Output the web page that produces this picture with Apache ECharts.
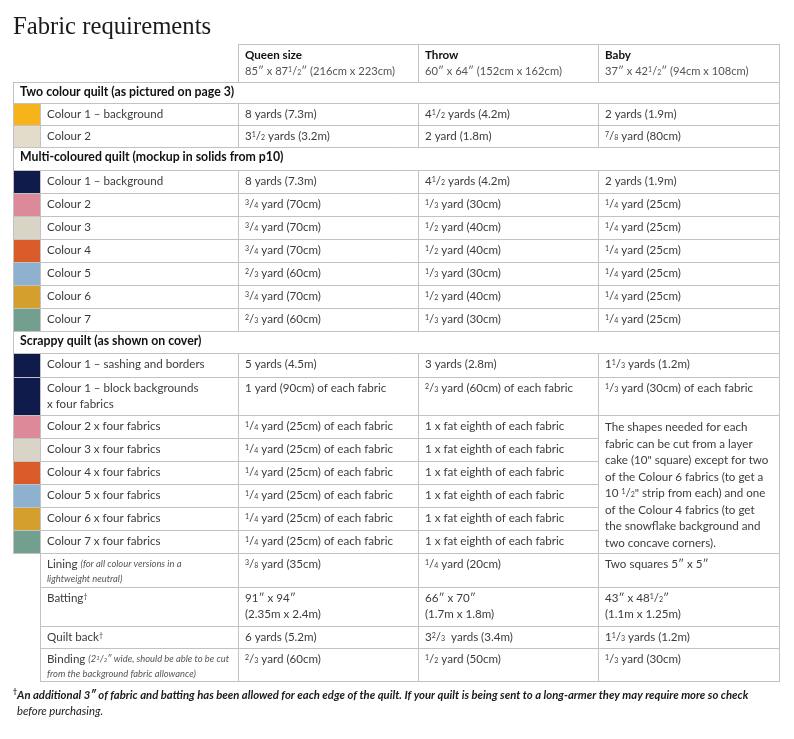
<!DOCTYPE html>
<html><head><meta charset="utf-8">
<script src="https://cdn.jsdelivr.net/npm/echarts@6/dist/echarts.min.js"></script>
<style>html,body{margin:0;padding:0;background:#fff}#c{width:794px;height:739px}</style>
</head><body><div id="c"></div>
<script>
// ---------------- data ----------------
const chartTitle = 'Fabric requirements';
const sizeNames = ['Queen size', 'Throw', 'Baby'];
const sizeDims = ['85″ x 87¹/₂″ (216cm x 223cm)', '60″ x 64″ (152cm x 162cm)', '37″ x 42¹/₂″ (94cm x 108cm)'];
const sectionTitles = ['Two colour quilt (as pictured on page 3)', 'Multi-coloured quilt (mockup in solids from p10)', 'Scrappy quilt (as shown on cover)'];
const rowSection = [0, null, null, 1, null, null, null, null, null, null, null, 2, null, null, null, null, null, null, null, null, null, null, null, null];
const rowLabels = [
  null, 'Colour 1 – background', 'Colour 2',
  null, 'Colour 1 – background', 'Colour 2', 'Colour 3', 'Colour 4', 'Colour 5', 'Colour 6', 'Colour 7',
  null, 'Colour 1 – sashing and borders', 'Colour 1 – block backgrounds\nx four fabrics', 'Colour 2 x four fabrics', 'Colour 3 x four fabrics', 'Colour 4 x four fabrics', 'Colour 5 x four fabrics', 'Colour 6 x four fabrics', 'Colour 7 x four fabrics',
  'Lining', 'Batting†', 'Quilt back†', 'Binding'
];
const rowNotes = [
  null, null, null, null, null, null, null, null, null, null, null, null, null, null, null, null, null, null, null, null,
  '(for all colour versions in a\nlightweight neutral)', null, null, '(2¹/₂″ wide, should be able to be cut\nfrom the background fabric allowance)'
];
const rowSwatch = [
  null, 'yellow', 'beige',
  null, 'navy', 'pink', 'stone', 'orange', 'blue', 'mustard', 'sage',
  null, 'navy', 'navy', 'pink', 'stone', 'orange', 'blue', 'mustard', 'sage',
  null, null, null, null
];
const queenValues = [
  null, '8 yards (7.3m)', '3¹/₂ yards (3.2m)',
  null, '8 yards (7.3m)', '³/₄ yard (70cm)', '³/₄ yard (70cm)', '³/₄ yard (70cm)', '²/₃ yard (60cm)', '³/₄ yard (70cm)', '²/₃ yard (60cm)',
  null, '5 yards (4.5m)', '1 yard (90cm) of each fabric', '¹/₄ yard (25cm) of each fabric', '¹/₄ yard (25cm) of each fabric', '¹/₄ yard (25cm) of each fabric', '¹/₄ yard (25cm) of each fabric', '¹/₄ yard (25cm) of each fabric', '¹/₄ yard (25cm) of each fabric',
  '³/₈ yard (35cm)', '91″ x 94″\n(2.35m x 2.4m)', '6 yards (5.2m)', '²/₃ yard (60cm)'
];
const throwValues = [
  null, '4¹/₂ yards (4.2m)', '2 yard (1.8m)',
  null, '4¹/₂ yards (4.2m)', '¹/₃ yard (30cm)', '¹/₂ yard (40cm)', '¹/₂ yard (40cm)', '¹/₃ yard (30cm)', '¹/₂ yard (40cm)', '¹/₃ yard (30cm)',
  null, '3 yards (2.8m)', '²/₃ yard (60cm) of each fabric', '1 x fat eighth of each fabric', '1 x fat eighth of each fabric', '1 x fat eighth of each fabric', '1 x fat eighth of each fabric', '1 x fat eighth of each fabric', '1 x fat eighth of each fabric',
  '¹/₄ yard (20cm)', '66″ x 70″\n(1.7m x 1.8m)', '3²/₃  yards (3.4m)', '¹/₂ yard (50cm)'
];
const babyValues = [
  null, '2 yards (1.9m)', '⁷/₈ yard (80cm)',
  null, '2 yards (1.9m)', '¹/₄ yard (25cm)', '¹/₄ yard (25cm)', '¹/₄ yard (25cm)', '¹/₄ yard (25cm)', '¹/₄ yard (25cm)', '¹/₄ yard (25cm)',
  null, '1¹/₃ yards (1.2m)', '¹/₃ yard (30cm) of each fabric',
  'The shapes needed for each\nfabric can be cut from a layer\ncake (10" square) except for two\nof the Colour 6 fabrics (to get a\n10 ¹/₂" strip from each) and one\nof the Colour 4 fabrics (to get\nthe snowflake background and\ntwo concave corners).',
  '', '', '', '', '',
  'Two squares 5″ x 5″', '43″ x 48¹/₂″\n(1.1m x 1.25m)', '1¹/₃ yards (1.2m)', '¹/₃ yard (30cm)'
];
const babyMerge = { first: 14, rows: 6 };
const footnoteMark = '†';
const footnoteLines = ['An additional 3″ of fabric and batting has been allowed for each edge of the quilt. If your quilt is being sent to a long-armer they may require more so check', 'before purchasing.'];

// ---------------- layout & style ----------------
const palette = { yellow: '#F6B41A', beige: '#E4DCCB', navy: '#0F1B4B', pink: '#DC8A9A', stone: '#D9D4C6', orange: '#D85B29', blue: '#8EB1CF', mustard: '#D59F2E', sage: '#73A08E' };
const BORDER = '#c2c2c2';
const FONT = 'Lato, "Noto Sans", sans-serif';
const TEXT = '#3c3c3c';
const FS = 11.6;
const colEdges = [0, 27, 225, 405, 585, 766];
const headerHeight = 38;
const rowHeights = [21, 22, 22, 23, 23, 23, 23, 23, 23, 23, 23, 22, 24, 38, 23, 23, 23, 23, 23, 23, 34, 39, 22, 33];
const rowTops = [];
(function () { let t = headerHeight; rowHeights.forEach(h => { rowTops.push(t); t += h; }); })();
const totalHeight = rowTops[rowTops.length - 1] + rowHeights[rowHeights.length - 1];

const SUP = '⁰¹²³⁴⁵⁶⁷⁸⁹', SUB = '₀₁₂₃₄₅₆₇₈₉';
function richify(str, base, sup, sub) {
  // converts unicode super/subscript digits into rich tokens
  return str.split('\n').map(line => {
    let out = '', buf = '', mode;
    const flush = () => { if (buf) { out += mode ? '{' + mode + '|' + buf + '}' : buf; } buf = ''; };
    for (const ch of line) {
      let m = base, c = ch;
      if (SUP.indexOf(ch) >= 0) { m = sup; c = String(SUP.indexOf(ch)); }
      else if (ch === '†') { m = sup; }
      else if (SUB.indexOf(ch) >= 0) { m = sub; c = String(SUB.indexOf(ch)); }
      if (m !== mode) { flush(); mode = m; }
      buf += c;
    }
    flush();
    return out;
  }).join('\n');
}
function richStyles(fill) {
  return {
    b: { fontFamily: FONT, fontSize: FS, fontWeight: 'bold', lineHeight: 16, fill: '#111' },
    s: { fontFamily: FONT, fontSize: 12.3, fontWeight: 'bold', lineHeight: 16, fill: '#111' },
    g: { fontFamily: FONT, fontSize: 11.2, lineHeight: 17, fill: '#555' },
    sup: { fontFamily: FONT, fontSize: 7, height: 12.6, lineHeight: 12, verticalAlign: 'top', fill: fill },
    sub: { fontFamily: FONT, fontSize: 7, height: 12.6, lineHeight: 12, verticalAlign: 'bottom', fill: fill },
    gsup: { fontFamily: FONT, fontSize: 7, height: 12.6, lineHeight: 12, verticalAlign: 'top', fill: '#555' },
    gsub: { fontFamily: FONT, fontSize: 7, height: 13.6, lineHeight: 12, verticalAlign: 'bottom', fill: '#555' },
    i: { fontFamily: FONT, fontSize: 9.4, fontStyle: 'italic', lineHeight: 13, fill: '#555' },
    isup: { fontFamily: FONT, fontSize: 6, fontStyle: 'italic', height: 13.6, lineHeight: 10, verticalAlign: 'top', fill: '#555' },
    isub: { fontFamily: FONT, fontSize: 6, fontStyle: 'italic', height: 13.4, lineHeight: 10, verticalAlign: 'bottom', fill: '#555' }
  };
}

function px(api, x, y) { const p = api.coord([x, y]); return [Math.round(p[0]), Math.round(p[1])]; }
function hline(api, xa, xb, y) {
  const a = px(api, xa, y), b = px(api, xb, y);
  return { type: 'line', shape: { x1: a[0], y1: a[1] + 0.5, x2: b[0] + 1, y2: b[1] + 0.5 }, style: { stroke: BORDER, lineWidth: 1 } };
}
function vline(api, x, ya, yb) {
  const a = px(api, x, ya), b = px(api, x, yb);
  return { type: 'line', shape: { x1: a[0] + 0.5, y1: a[1], x2: b[0] + 0.5, y2: b[1] + 1 }, style: { stroke: BORDER, lineWidth: 1 } };
}
function textEl(api, x, y, text, fill, dy, lh) {
  const p = api.coord([x, y]);
  return {
    type: 'text',
    style: {
      text: text, x: Math.round(p[0]), y: Math.round(p[1]) + dy,
      align: 'left', verticalAlign: 'top', fontFamily: FONT, fontSize: FS, lineHeight: lh || 16, fill: fill,
      rich: richStyles(fill)
    }
  };
}

function renderItem(params, api) {
  const r = api.value(0);
  const kids = [];
  const PAD = 7;
  if (r < 0) {
    const y0 = 0, y1 = headerHeight;
    kids.push(hline(api, colEdges[2], colEdges[5], y0), hline(api, colEdges[2], colEdges[5], y1));
    for (let c = 2; c <= 5; c++) kids.push(vline(api, colEdges[c], y0, y1));
    for (let k = 0; k < 3; k++) {
      kids.push(textEl(api, colEdges[2 + k] + PAD, y0, '{b|' + sizeNames[k] + '}\n' + richify(sizeDims[k], 'g', 'gsup', 'gsub'), TEXT, 3));
    }
    return { type: 'group', children: kids };
  }
  const y0 = rowTops[r], y1 = y0 + rowHeights[r];
  if (rowSection[r] !== null) {
    kids.push(hline(api, colEdges[0], colEdges[5], y0), hline(api, colEdges[0], colEdges[5], y1));
    kids.push(vline(api, colEdges[0], y0, y1), vline(api, colEdges[5], y0, y1));
    kids.push(textEl(api, colEdges[0] + PAD, y0, '{s|' + sectionTitles[rowSection[r]] + '}', '#111', 2));
    return { type: 'group', children: kids };
  }
  const sw = rowSwatch[r];
  const left = sw ? 0 : 1;
  if (sw) {
    const a = px(api, colEdges[0], y0), b = px(api, colEdges[1], y1);
    kids.push({ type: 'rect', shape: { x: a[0], y: a[1] + 1, width: b[0] - a[0], height: b[1] - a[1] - 1 }, style: { fill: palette[sw] } });
  }
  const inMerge = r >= babyMerge.first && r < babyMerge.first + babyMerge.rows;
  const isFirst = r === babyMerge.first, isLast = r === babyMerge.first + babyMerge.rows - 1;
  const rightTop = inMerge && !isFirst ? colEdges[4] : colEdges[5];
  const rightBot = inMerge && !isLast ? colEdges[4] : colEdges[5];
  kids.push(hline(api, colEdges[left], rightTop, y0), hline(api, colEdges[left], rightBot, y1));
  for (let c = left; c <= 5; c++) kids.push(vline(api, colEdges[c], y0, y1));
  // label
  let label = richify(rowLabels[r], null, 'sup', 'sub');
  if (rowNotes[r]) {
    const nl = rowNotes[r].split('\n');
    label = label + ' ' + richify(nl[0], 'i', 'isup', 'isub') + nl.slice(1).map(s => '\n' + richify(s, 'i', 'isup', 'isub')).join('');
  }
  kids.push(textEl(api, colEdges[1] + PAD, y0, label, TEXT, 3));
  const vals = [queenValues[r], throwValues[r], babyValues[r]];
  vals.forEach((v, k) => {
    if (!v) return;
    const merged = k === 2 && isFirst;
    kids.push(textEl(api, colEdges[2 + k] + PAD, y0, richify(v, null, 'sup', 'sub'), TEXT, merged ? 4 : 3, merged ? 16.5 : 16));
  });
  return { type: 'group', children: kids };
}

const rowData = [[-1]].concat(rowHeights.map((h, i) => [i]));

const chart = echarts.init(document.getElementById('c'), null, { renderer: 'canvas' });
chart.setOption({
  animation: false,
  backgroundColor: '#fff',
  title: [
    { text: chartTitle, left: 13, top: 15, padding: 0, textStyle: { fontFamily: '"Liberation Serif", "DejaVu Serif", serif', fontSize: 24.7, fontWeight: 'normal', color: '#1a1a1a' } },
    { text: '{m|' + footnoteMark + '}{f|' + footnoteLines[0] + '}', left: 13, top: 687, padding: 0,
      textStyle: { rich: { m: { fontFamily: FONT, fontSize: 7, height: 10, verticalAlign: 'top', lineHeight: 10, color: '#222' }, f: { fontFamily: FONT, fontSize: 11.3, fontStyle: 'italic', lineHeight: 16, color: '#1a1a1a' } } } },
    { text: footnoteLines[1], left: 17, top: 703, padding: 0, textStyle: { fontFamily: FONT, fontSize: 11.3, fontStyle: 'italic', fontWeight: 'normal', lineHeight: 16, color: '#1a1a1a' } }
  ],
  grid: { left: 13, right: 15, top: 44, bottom: 739 - 44 - 637 },
  xAxis: { type: 'value', min: 0, max: colEdges[colEdges.length - 1], show: false },
  yAxis: { type: 'value', min: 0, max: totalHeight, inverse: true, show: false },
  series: [{ type: 'custom', renderItem: renderItem, data: rowData, clip: false, encode: { x: 0, y: 0 } }]
});
</script>
</body></html>
